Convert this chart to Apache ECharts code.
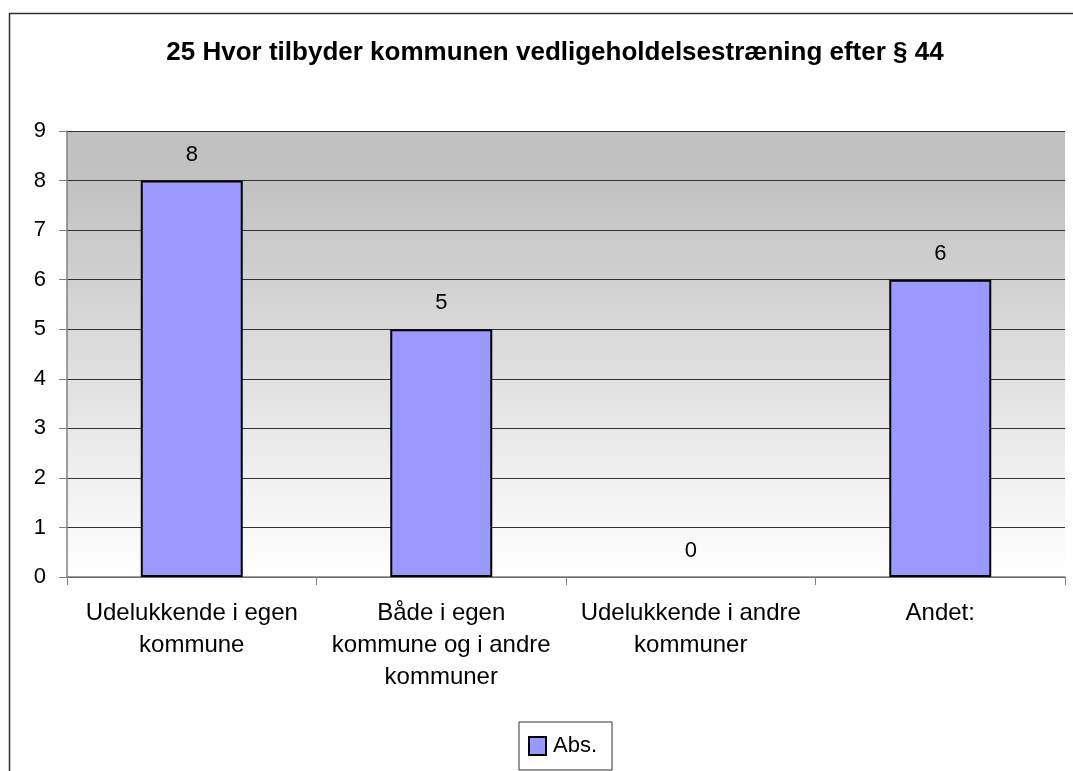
<!DOCTYPE html>
<html lang="da">
<head>
<meta charset="UTF-8">
<title>25 Hvor tilbyder kommunen vedligeholdelsestræning efter § 44</title>
<script src="https://cdn.jsdelivr.net/npm/echarts@6/dist/echarts.min.js"></script>
<style>
  html, body { margin: 0; padding: 0; background: #fff; }
  #chart { width: 1073px; height: 771px; }
</style>
</head>
<body>
<div id="chart"></div>
<script>
// data
var titleText = '25 Hvor tilbyder kommunen vedligeholdelsestræning efter § 44';
var categories = [
    'Udelukkende i egen\nkommune',
    'Både i egen\nkommune og i andre\nkommuner',
    'Udelukkende i andre\nkommuner',
    'Andet:'
];
var seriesName = 'Abs.';
var values = [8, 5, 0, 6];
var yTicks = [0, 1, 2, 3, 4, 5, 6, 7, 8, 9];

var font = '"Liberation Sans", Arial, sans-serif';
var myChart = echarts.init(document.getElementById('chart'));

// a zero bar shows no outline in the original
var barData = values.map(function (v) {
    return v === 0 ? {value: v, itemStyle: {borderWidth: 0}} : v;
});

var option = {
    animation: false,
    backgroundColor: '#fff',
    textStyle: {fontFamily: font, color: '#000'},
    title: {
        text: titleText,
        left: 550,
        top: 35,
        textAlign: 'center',
        textStyle: {fontFamily: font, fontSize: 26, fontWeight: 'bold', color: '#000'}
    },
    graphic: [{
        type: 'rect',
        shape: {x: 9.5, y: 13.5, width: 1100, height: 800},
        style: {fill: null, stroke: '#333', lineWidth: 1.5},
        silent: true,
        z: -1
    }],
    legend: {
        data: [seriesName],
        left: 519,
        top: 722,
        padding: [13, 15, 13, 9],
        itemWidth: 17,
        itemHeight: 18,
        itemGap: 6,
        borderColor: '#333',
        borderWidth: 1,
        backgroundColor: '#fff',
        icon: 'rect',
        textStyle: {fontFamily: font, fontSize: 22, color: '#000', padding: [0, 0, 0, 2]}
    },
    grid: {
        left: 67,
        right: 8,
        top: 131,
        bottom: 194,
        show: true,
        borderWidth: 0,
        backgroundColor: {
            type: 'linear', x: 0, y: 0, x2: 0, y2: 1,
            colorStops: [
                {offset: 0, color: '#c0c0c0'},
                {offset: 0.12, color: '#c2c2c2'},
                {offset: 1, color: '#ffffff'}
            ]
        }
    },
    xAxis: {
        type: 'category',
        data: categories,
        boundaryGap: true,
        axisLine: {lineStyle: {color: '#808080', width: 1.5}},
        axisTick: {show: true, length: 8, lineStyle: {color: '#808080'}},
        axisLabel: {
            fontFamily: font, fontSize: 24, color: '#000',
            lineHeight: 32, margin: 20, interval: 0
        }
    },
    yAxis: {
        type: 'value',
        min: yTicks[0],
        max: yTicks[yTicks.length - 1],
        interval: 1,
        axisLine: {show: true, lineStyle: {color: '#808080', width: 1.5}},
        axisTick: {show: true, length: 8, lineStyle: {color: '#808080'}},
        axisLabel: {fontFamily: font, fontSize: 22, color: '#000', margin: 21},
        splitLine: {lineStyle: {color: '#333', width: 1}}
    },
    series: [{
        name: seriesName,
        type: 'bar',
        data: barData,
        barWidth: 102,
        itemStyle: {color: '#9999ff', borderColor: '#000', borderWidth: 2},
        label: {
            show: true,
            position: 'top',
            distance: 15,
            fontFamily: font,
            fontSize: 22,
            color: '#000'
        }
    }]
};
myChart.setOption(option);
</script>
</body>
</html>
